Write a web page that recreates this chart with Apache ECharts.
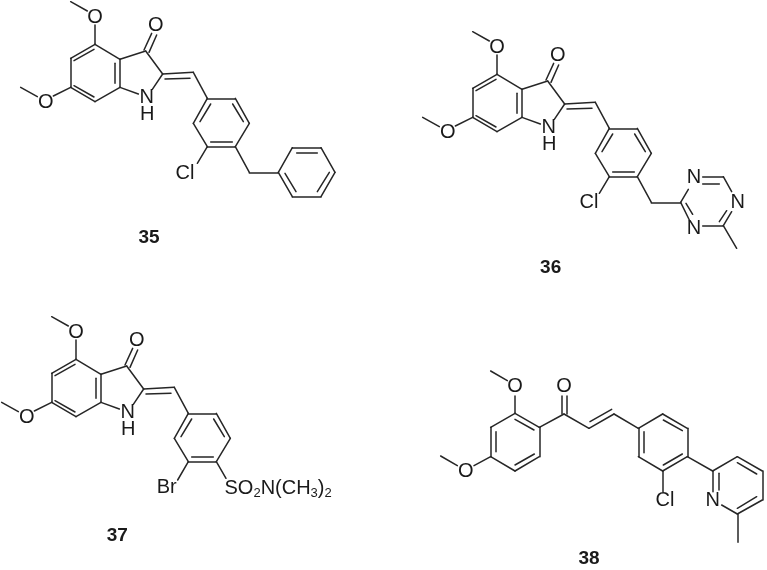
<!DOCTYPE html>
<html><head><meta charset="utf-8">
<style>html,body{margin:0;padding:0;background:#fff}#c{width:767px;height:570px}</style>
<script src="https://cdn.jsdelivr.net/npm/echarts@6/dist/echarts.min.js"></script>
</head><body><div id="c"></div>
<script>
// Axis units are thirds of a page pixel.
const indolinoneBonds = [
 [212,5,262,33],[285,75,285,133],[285,133,212,175],[212,175,212,262],[212,262,285,305],[285,305,360,262],[360,262,360,178],[360,178,285,133],
 [222,182,282,148],[222,257,282,291],[345,190,345,250],
 [62,262,112,290],[160,288,212,262],
 [360,178,437,153],[432,150,455,100],[447,157,470,105],[437,153,488,222],[488,222,457,268],[360,262,415,282],
 [488,222,580,217],[495,237,570,235],[580,217,622,295],
 [622,295,706,295],[706,295,748,370],[748,370,706,440],[706,440,622,440],[622,440,580,370],[580,370,622,295],
 [600,365,632,312],[698,312,730,365],[632,425,697,425]
];
const indolinoneAtoms = [["O",285,52],["O",137,306],["O",467,76],["N",440,292],["H",442,343]];
const extra35 = [[622,440,592,490],[706,440,748,517],[748,517,835,517],
 [835,517,877,443],[877,443,963,443],[963,443,1005,517],[1005,517,963,590],[963,590,877,590],[877,590,835,517],
 [890,458,952,458],[988,517,952,575],[888,575,855,520]];
const atoms35 = [["Cl",555,520]];
const extra36 = [[622,440,592,490],[706,440,748,517],[748,517,836,517],
 [836,517,859,478],[902,440,964,440],[902,460,952,460],[964,440,989,485],
 [989,545,964,587],[974,542,952,575],[964,587,902,587],[836,517,862,570],[852,520,872,553],[964,587,1004,655]];
const atoms36 = [["Cl",561,518],["N",876,442],["N",1007,517],["N",876,595]];
const extra37 = [[622,440,590,495],[706,440,735,490]];
const atoms37 = [["Br",557,518]];
const bonds38 = [[212,183,262,212],[285,258,285,310],[285,310,212,352],[212,352,212,440],[212,440,285,483],[285,483,358,440],[358,440,358,352],[358,352,285,310],
 [285,328,342,360],[228,365,228,425],[285,465,343,432],[62,438,112,467],[162,467,212,440],
 [358,352,432,312],[425,312,425,258],[440,312,440,258],[432,312,507,355],[507,355,582,312],[510,335,575,298],[582,312,655,355],
 [655,355,728,312],[728,312,802,355],[802,355,802,440],[802,440,728,483],[728,483,655,440],[655,440,655,355],
 [672,365,672,428],[730,330,787,362],[730,465,787,432],[728,483,728,545],[802,440,878,483],
 [878,483,878,545],[895,490,895,540],[878,483,952,440],[952,440,1027,483],[952,458,1010,492],[1027,483,1027,570],[1027,570,952,612],[1010,560,952,595],[952,612,905,585],[952,612,952,697]];
const atoms38 = [["O",285,228],["O",137,485],["O",432,230],["Cl",735,572],["N",878,570]];
const compounds = [["35",447,712],["36",1652,803],["37",352,1608],["38",1767,1675]];
const origin36 = [1206,90];
const origin37 = [-57,945];
const origin38 = [1260,930];
const sulfonamideAnchor = [672,1464];
const sulfonamideText = "{a|SO}{s|2}{a|N(CH}{s|3}{a|)}{s|2}";

function moved(list,o){return list.map(b=>[b[0]+o[0],b[1]+o[1],b[2]+o[0],b[3]+o[1]]);}
function movedA(list,o){return list.map(a=>[a[0],a[1]+o[0],a[2]+o[1]]);}
const z=[0,0];
const allBonds=[...moved(indolinoneBonds,z),...moved(extra35,z),
 ...moved(indolinoneBonds,origin36),...moved(extra36,origin36),
 ...moved(indolinoneBonds,origin37),...moved(extra37,origin37),
 ...moved(bonds38,origin38)];
const allAtoms=[...movedA(indolinoneAtoms,z),...movedA(atoms35,z),
 ...movedA(indolinoneAtoms,origin36),...movedA(atoms36,origin36),
 ...movedA(indolinoneAtoms,origin37),...movedA(atoms37,origin37),
 ...movedA(atoms38,origin38)];
const ink='#262626';
const font='"Liberation Sans",Arial,sans-serif';
const chart=echarts.init(document.getElementById('c'),null,{renderer:'canvas'});
chart.setOption({
 animation:false,backgroundColor:'#fff',
 grid:{left:0,right:0,top:0,bottom:0},
 xAxis:{type:'value',min:0,max:2301,show:false},
 yAxis:{type:'value',min:0,max:1710,inverse:true,show:false},
 series:[
  {type:'lines',coordinateSystem:'cartesian2d',silent:true,
   lineStyle:{color:ink,width:1.5,opacity:1,cap:'round'},
   data:allBonds.map(b=>({coords:[[b[0],b[1]],[b[2],b[3]]]}))},
  {type:'scatter',silent:true,symbolSize:1,itemStyle:{opacity:0},
   data:allAtoms.map(a=>({value:[a[1],a[2]],name:a[0]})),
   label:{show:true,position:'inside',opacity:1,formatter:p=>p.name,color:'#1a1a1a',fontFamily:font,fontSize:20}},
  {type:'scatter',silent:true,symbolSize:1,itemStyle:{opacity:0},
   data:compounds.map(a=>({value:[a[1],a[2]],name:a[0]})),
   label:{show:true,position:'inside',opacity:1,formatter:p=>p.name,color:'#1a1a1a',fontFamily:font,fontSize:19,fontWeight:'bold'}},
  {type:'scatter',silent:true,symbolSize:1,itemStyle:{opacity:0},
   data:[{value:sulfonamideAnchor}],
   label:{show:true,position:'right',distance:0,opacity:1,formatter:sulfonamideText,
    rich:{a:{color:'#1a1a1a',fontFamily:font,fontSize:20},s:{color:'#1a1a1a',fontFamily:font,fontSize:13,padding:[10,0,0,0]}}}}
 ]
});
</script></body></html>
